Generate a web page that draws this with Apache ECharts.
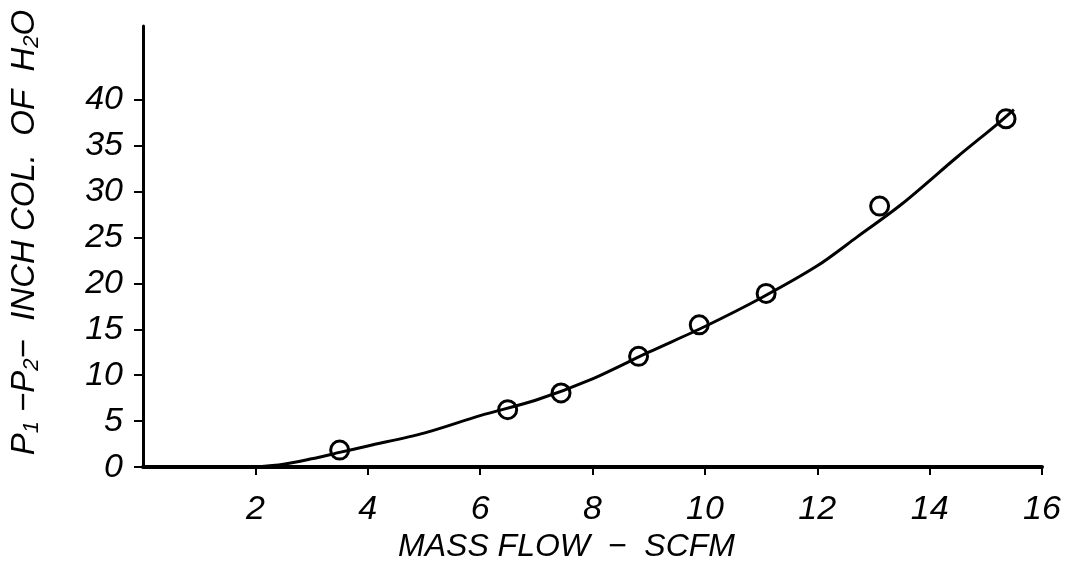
<!DOCTYPE html>
<html>
<head>
<meta charset="utf-8">
<script src="https://cdn.jsdelivr.net/npm/echarts@6/dist/echarts.min.js"></script>
<style>
html,body{margin:0;padding:0;background:#fff;}
#chart{width:1070px;height:568px;}
</style>
</head>
<body>
<div id="chart"></div>
<script>
// Measured data points: mass flow (SCFM) vs pressure drop (inch col. of H2O)
const pointX = [3.5, 6.49, 7.44, 8.82, 9.9, 11.09, 13.11, 15.36];
const pointY = [1.85, 6.25, 8.07, 12.05, 15.48, 18.9, 28.4, 37.9];
// Fitted curve
const curveX = [2.0, 2.5, 3.0, 3.5, 4.0, 5.0, 6.0, 7.0, 8.0, 9.0, 10.0, 11.0, 12.0, 12.7, 13.5, 14.5, 15.2, 15.5];
const curveY = [0, 0.3, 0.9, 1.6, 2.3, 3.7, 5.6, 7.3, 9.6, 12.5, 15.3, 18.4, 21.9, 25.0, 28.6, 33.8, 37.3, 38.9];
const xTicks = [2, 4, 6, 8, 10, 12, 14, 16];
const yTicks = [0, 5, 10, 15, 20, 25, 30, 35, 40];

const FONT = 'Liberation Sans';
const chart = echarts.init(document.getElementById('chart'));
chart.setOption({
  animation: false,
  backgroundColor: '#fff',
  grid: {left: 143, right: 28, top: 26, bottom: 99, containLabel: false},
  xAxis: {
    type: 'value', min: 0, max: 16, interval: 2,
    name: 'MASS FLOW  −  SCFM',
    nameLocation: 'middle', nameGap: 62,
    nameTextStyle: {fontFamily: FONT, fontStyle: 'italic', fontSize: 32, color: '#000', padding: [0, 52, 0, 0]},
    axisLine: {show: true, onZero: true, lineStyle: {color: '#000', width: 4}},
    axisTick: {show: true, length: 8, lineStyle: {color: '#000', width: 2}, customValues: xTicks},
    axisLabel: {show: true, margin: 25, fontFamily: FONT, fontStyle: 'italic', fontSize: 34, color: '#000', customValues: xTicks},
    splitLine: {show: false}
  },
  yAxis: {
    type: 'value', min: 0, max: 48,
    name: '{n|P}{s|1}{n| −P}{s|2}{n|−  INCH COL.  OF  H}{s|2}{n|O}',
    nameLocation: 'middle', nameGap: 100, nameRotate: 90,
    nameTextStyle: {
      color: '#000', padding: [0, 0, 0, 28],
      rich: {
        n: {fontFamily: FONT, fontStyle: 'italic', fontSize: 33, color: '#000'},
        s: {fontFamily: FONT, fontStyle: 'italic', fontSize: 22, color: '#000', verticalAlign: 'bottom', padding: [15, 0, 0, 0]}
      }
    },
    axisLine: {show: true, lineStyle: {color: '#000', width: 3}},
    axisTick: {show: true, length: 9, lineStyle: {color: '#000', width: 2}, customValues: yTicks},
    axisLabel: {show: true, margin: 20, fontFamily: FONT, fontStyle: 'italic', fontSize: 34, color: '#000', customValues: yTicks},
    splitLine: {show: false}
  },
  series: [
    {
      type: 'line',
      data: curveX.map((x, i) => [x, curveY[i]]),
      smooth: 0.3,
      showSymbol: false,
      lineStyle: {color: '#000', width: 3},
      z: 2
    },
    {
      type: 'scatter',
      data: pointX.map((x, i) => [x, pointY[i]]),
      symbol: 'circle',
      symbolSize: 18,
      itemStyle: {color: 'rgba(255,255,255,0)', borderColor: '#000', borderWidth: 3, opacity: 1},
      emphasis: {disabled: true},
      z: 3
    }
  ]
});
</script>
</body>
</html>
